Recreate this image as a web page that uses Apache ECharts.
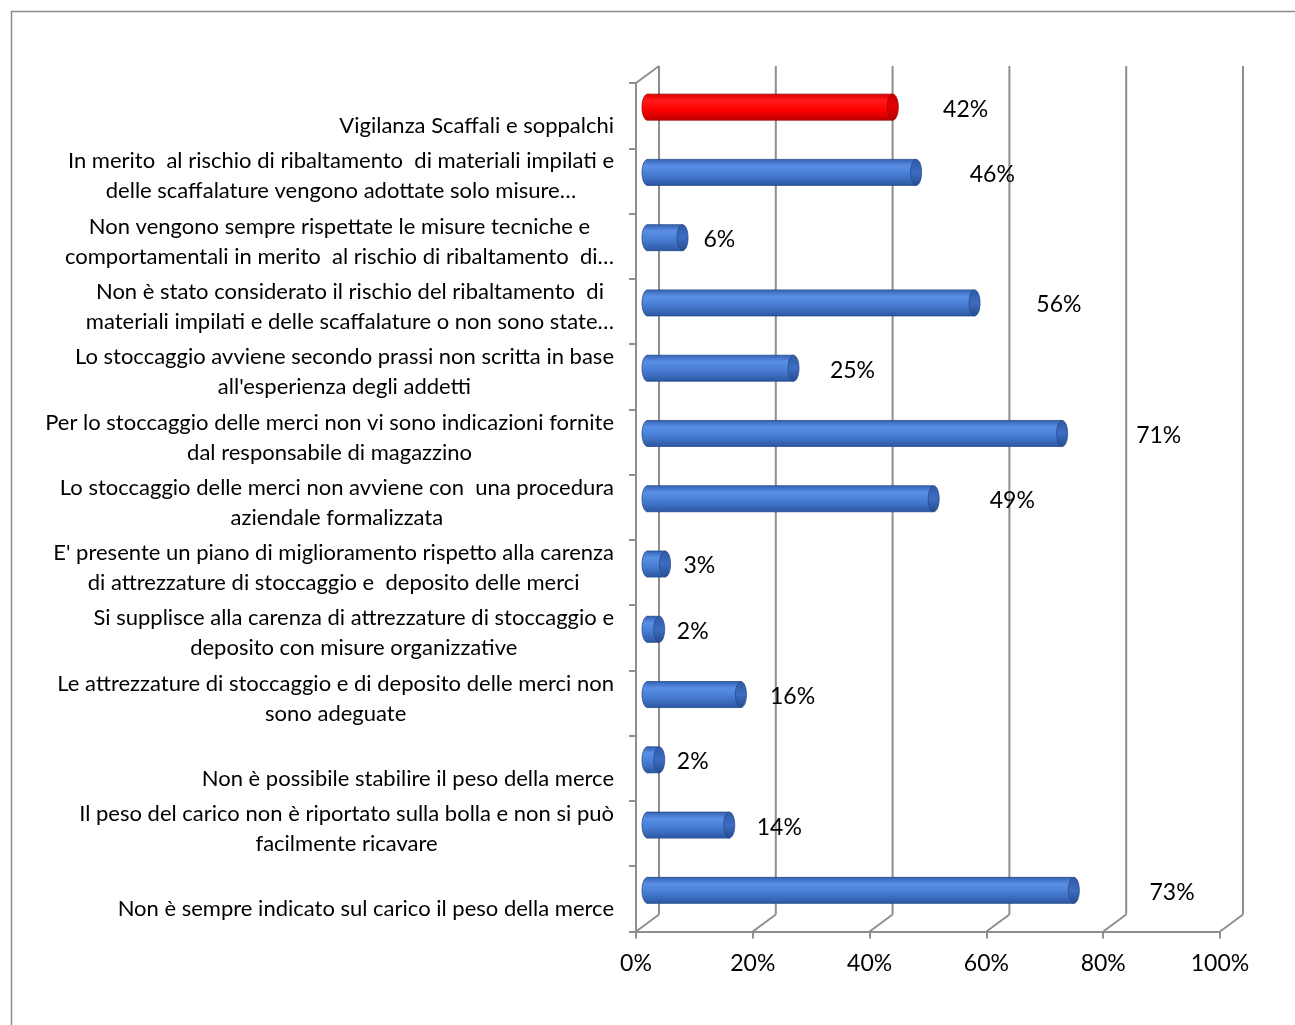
<!DOCTYPE html>
<html>
<head>
<meta charset="utf-8">
<script src="https://cdn.jsdelivr.net/npm/echarts@6/dist/echarts.min.js"></script>
<style>
html,body{margin:0;padding:0;background:#ffffff;}
#chart{width:1295px;height:1025px;}
</style>
</head>
<body>
<div id="chart"></div>
<script>
// ---------------- data ----------------
var categories = [
  "Vigilanza Scaffali e soppalchi",
  "In merito  al rischio di ribaltamento  di materiali impilati e\ndelle scaffalature vengono adottate solo misure…",
  "Non vengono sempre rispettate le misure tecniche e\ncomportamentali in merito  al rischio di ribaltamento  di…",
  "Non è stato considerato il rischio del ribaltamento  di\nmateriali impilati e delle scaffalature o non sono state…",
  "Lo stoccaggio avviene secondo prassi non scritta in base\nall'esperienza degli addetti",
  "Per lo stoccaggio delle merci non vi sono indicazioni fornite\ndal responsabile di magazzino",
  "Lo stoccaggio delle merci non avviene con  una procedura\naziendale formalizzata",
  "E' presente un piano di miglioramento rispetto alla carenza\ndi attrezzature di stoccaggio e  deposito delle merci",
  "Si supplisce alla carenza di attrezzature di stoccaggio e\ndeposito con misure organizzative",
  "Le attrezzature di stoccaggio e di deposito delle merci non\nsono adeguate",
  "Non è possibile stabilire il peso della merce",
  "Il peso del carico non è riportato sulla bolla e non si può\nfacilmente ricavare",
  "Non è sempre indicato sul carico il peso della merce"
];
var values = [0.42, 0.46, 0.06, 0.56, 0.25, 0.71, 0.49, 0.03, 0.02, 0.16, 0.02, 0.14, 0.73];
var highlightIndex = 0;
var tickValues = [0, 0.2, 0.4, 0.6, 0.8, 1];
var tickLabels = ["0%", "20%", "40%", "60%", "80%", "100%"];

// ---------------- style ----------------
var FONT = "Lato, 'Open Sans', sans-serif";
var CAT_SIZE = 22, VAL_SIZE = 23, LINE_H = 30;
var DX = 23, DY = 17;          // depth offset of back wall
var BAR_H = 26, CAP_RX = 5.5;
var GRID_COLOR = "#8e8e8e";

function blueBody() {
  return new echarts.graphic.LinearGradient(0, 0, 0, 1, [
    {offset: 0, color: "#3563b3"},
    {offset: 0.25, color: "#5a8fe6"},
    {offset: 0.55, color: "#4a7fd6"},
    {offset: 1, color: "#2c58a3"}
  ]);
}
function redBody() {
  return new echarts.graphic.LinearGradient(0, 0, 0, 1, [
    {offset: 0, color: "#e00000"},
    {offset: 0.25, color: "#ff1a1a"},
    {offset: 0.6, color: "#ff0000"},
    {offset: 1, color: "#c00000"}
  ]);
}
function blueCap() {
  return new echarts.graphic.LinearGradient(0, 0, 0, 1, [
    {offset: 0, color: "#2f5aa5"},
    {offset: 0.5, color: "#3d6dc2"},
    {offset: 1, color: "#244c8f"}
  ]);
}
function redCap() {
  return new echarts.graphic.LinearGradient(0, 0, 0, 1, [
    {offset: 0, color: "#c80000"},
    {offset: 0.5, color: "#e60000"},
    {offset: 1, color: "#b00000"}
  ]);
}

function renderWall(params, api) {
  var v = api.value(0);
  var cs = params.coordSys;
  var x = api.coord([v, 0])[0];
  var top = cs.y, bottom = cs.y + cs.height;
  var st = {stroke: GRID_COLOR, lineWidth: 2, fill: null};
  var children = [
    {type: "line", shape: {x1: x, y1: bottom, x2: x + DX, y2: bottom - DY}, style: st},
    {type: "line", shape: {x1: x + DX, y1: bottom - DY, x2: x + DX, y2: top - DY}, style: st}
  ];
  if (params.dataIndex === 0) {
    children.push({type: "line", shape: {x1: x, y1: top, x2: x + DX, y2: top - DY}, style: st});
  }
  return {type: "group", children: children};
}

function renderBar(params, api) {
  var v = api.value(0), i = api.value(1);
  var p0 = api.coord([0, i]);
  var p1 = api.coord([v, i]);
  var x0 = p0[0] + DX / 2, x1 = p1[0] + DX / 2;
  var cy = p0[1] - DY / 2;
  var isRed = (i === highlightIndex);
  var body = isRed ? redBody() : blueBody();
  var cap = isRed ? redCap() : blueCap();
  var edge = isRed ? "#a00000" : "#264a8a";
  var lx = api.coord([v * 1.14, i])[0] + DX / 2 + 16;
  return {
    type: "group",
    children: [
      {type: "ellipse", shape: {cx: x0, cy: cy, rx: CAP_RX, ry: BAR_H / 2},
       style: {fill: body, stroke: edge, lineWidth: 0.8}},
      {type: "rect", shape: {x: x0, y: cy - BAR_H / 2, width: Math.max(x1 - x0, 0.5), height: BAR_H},
       style: {fill: body}},
      {type: "line", shape: {x1: x0, y1: cy - BAR_H / 2, x2: x1, y2: cy - BAR_H / 2},
       style: {stroke: edge, lineWidth: 0.8}},
      {type: "line", shape: {x1: x0, y1: cy + BAR_H / 2, x2: x1, y2: cy + BAR_H / 2},
       style: {stroke: edge, lineWidth: 0.8}},
      {type: "ellipse", shape: {cx: x1, cy: cy, rx: CAP_RX, ry: BAR_H / 2},
       style: {fill: cap, stroke: edge, lineWidth: 0.8}},
      {type: "text", style: {x: lx, y: cy + 2, text: Math.round(v * 100) + "%",
        fill: "#000", font: VAL_SIZE + "px " + FONT, align: "left", verticalAlign: "middle"}}
    ]
  };
}

// wrapped lines are centred on each other; one-line labels sit on the lower line
function catFormatter(val) {
  var lines = val.split("\n");
  if (lines.length === 1) return "{e| }\n{c|" + lines[0] + "}";
  return lines.map(function (l) { return "{c|" + l + "}"; }).join("\n");
}

var chart = echarts.init(document.getElementById("chart"), null, {renderer: "canvas"});
var option = {
  backgroundColor: "#ffffff",
  animation: false,
  graphic: [
    {type: "rect", left: 9, top: 9, shape: {width: 1400, height: 1100},
     style: {fill: null, stroke: "#8c8c8c", lineWidth: 1.5}, silent: true}
  ],
  grid: {left: 636, right: 75, top: 83, bottom: 93.5, containLabel: false},
  xAxis: {
    type: "value", min: 0, max: 1, interval: 0.2,
    axisLine: {show: true, lineStyle: {color: GRID_COLOR, width: 2}},
    axisTick: {show: true, length: 7, lineStyle: {color: GRID_COLOR, width: 2}},
    splitLine: {show: false},
    axisLabel: {
      margin: 21, color: "#000", fontSize: VAL_SIZE, fontFamily: FONT,
      formatter: function (v) {
        var idx = tickValues.indexOf(Math.round(v * 10) / 10);
        return idx >= 0 ? tickLabels[idx] : "";
      }
    }
  },
  yAxis: {
    type: "category", inverse: true, data: categories,
    axisLine: {show: true, lineStyle: {color: GRID_COLOR, width: 2}},
    axisTick: {show: true, length: 7, lineStyle: {color: GRID_COLOR, width: 2}},
    splitLine: {show: false},
    axisLabel: {
      margin: 22, color: "#000", fontSize: CAT_SIZE, fontFamily: FONT, interval: 0,
      lineHeight: LINE_H, padding: [0, 0, 9, 0],
      formatter: catFormatter,
      rich: {
        c: {align: "center", fontSize: CAT_SIZE, fontFamily: FONT, lineHeight: LINE_H, color: "#000"},
        e: {fontSize: CAT_SIZE, fontFamily: FONT, lineHeight: LINE_H, color: "#000"}
      }
    }
  },
  series: [
    {
      type: "custom", name: "walls", renderItem: renderWall, clip: false, z: 1, silent: true,
      encode: {x: 0, y: 1},
      data: tickValues.map(function (v) { return [v, 0]; })
    },
    {
      type: "custom", name: "bars", renderItem: renderBar, clip: false, z: 3,
      encode: {x: 0, y: 1},
      data: values.map(function (v, i) { return [v, i]; })
    }
  ]
};
chart.setOption(option);
</script>
</body>
</html>
